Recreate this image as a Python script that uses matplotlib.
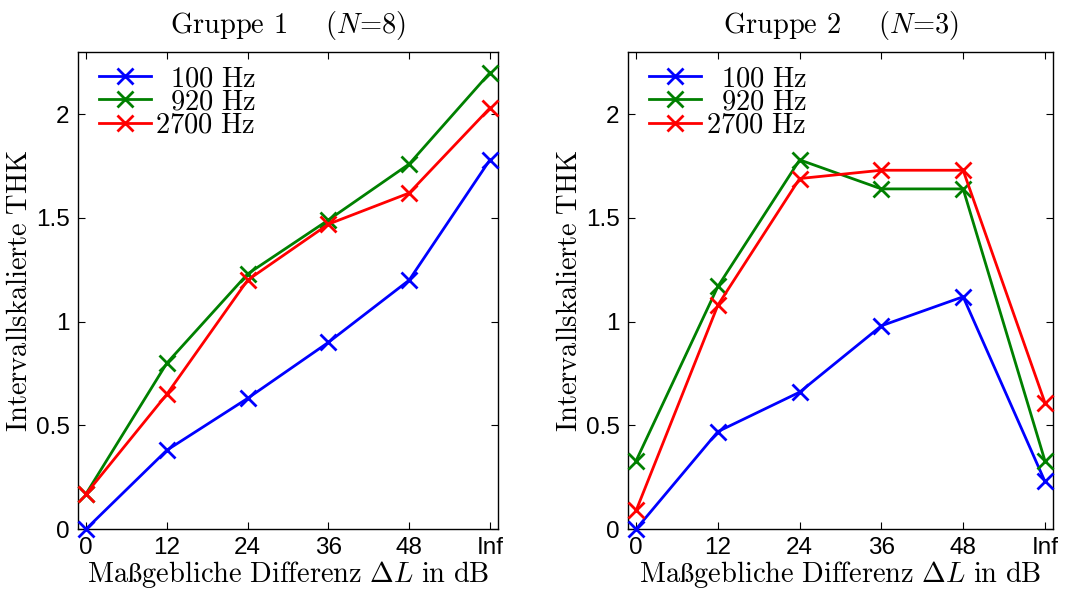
import matplotlib
matplotlib.use("Agg")
import matplotlib.pyplot as plt

plt.rcParams['mathtext.fontset'] = 'cm'
plt.rcParams['font.family'] = ['Liberation Sans', 'DejaVu Sans']

x_labels = ['0', '12', '24', '36', '48', 'Inf']
series_names = ['100 Hz', '920 Hz', '2700 Hz']
series_colors = ['#0000ff', '#008000', '#ff0000']

g1_100 = [0.00, 0.38, 0.63, 0.90, 1.20, 1.78]
g1_920 = [0.17, 0.80, 1.23, 1.49, 1.76, 2.20]
g1_2700 = [0.17, 0.65, 1.20, 1.47, 1.62, 2.03]

g2_100 = [0.00, 0.47, 0.66, 0.98, 1.12, 0.23]
g2_920 = [0.33, 1.17, 1.78, 1.64, 1.64, 0.33]
g2_2700 = [0.09, 1.08, 1.69, 1.73, 1.73, 0.61]

groups = [
    ('Gruppe 1', 8, [g1_100, g1_920, g1_2700]),
    ('Gruppe 2', 3, [g2_100, g2_920, g2_2700]),
]

# right-align the legend labels by padding shorter numbers with a digit-wide space
legend_labels = [r'$\mathrm{\hspace{0.62}100\ Hz}$',
                 r'$\mathrm{\hspace{0.62}920\ Hz}$',
                 r'$\mathrm{2700\ Hz}$']

FS = 20.5

fig = plt.figure(figsize=(10.73, 5.94), dpi=100)
rects = [[0.0727, 0.1094, 0.3914, 0.803], [0.5853, 0.1094, 0.3961, 0.803]]

for rect, (gname, n, data) in zip(rects, groups):
    ax = fig.add_axes(rect)
    xs = range(len(x_labels))
    for vals, col, lab in zip(data, series_colors, legend_labels):
        ax.plot(xs, vals, color=col, lw=2, marker='x', ms=11, mew=2,
                label=lab, clip_on=False, zorder=3)
    ax.set_xlim(-0.1, 5.1)
    ax.set_ylim(0, 2.3)
    ax.set_xticks(list(xs))
    ax.set_xticklabels(x_labels)
    ax.set_yticks([0, 0.5, 1, 1.5, 2])
    ax.set_yticklabels(['0', '0.5', '1', '1.5', '2'])
    ax.tick_params(direction='in', top=True, right=True, length=5,
                   width=0.8, labelsize=17.5, pad=6)
    for sp in ax.spines.values():
        sp.set_linewidth(1.0)
    ax.set_title('%s    ($N$=%d)' % (gname, n), family='cmr10',
                 fontsize=FS, pad=14)
    ax.set_xlabel(r'$\mathrm{Ma\ss gebliche\ Differenz}\ \Delta L\ \mathrm{in\ dB}$',
                  fontsize=FS, labelpad=0)
    ax.set_ylabel(r'$\mathrm{Intervallskalierte\ THK}$', fontsize=FS, labelpad=2)
    ax.legend(loc='upper left', bbox_to_anchor=(0.015, 1.0), frameon=False,
              fontsize=FS, handlelength=1.85, handletextpad=0.15,
              labelspacing=-0.1, borderaxespad=0.3, borderpad=0.2)

fig.savefig('out.png', dpi=100)
